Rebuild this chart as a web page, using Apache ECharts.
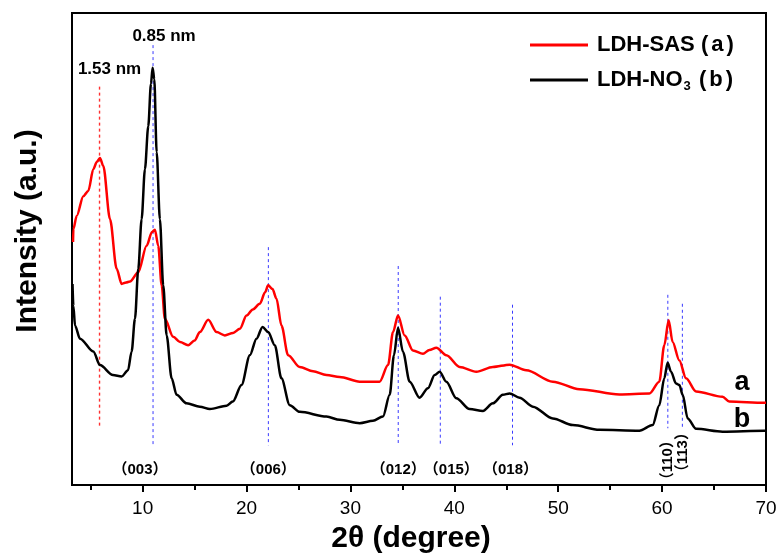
<!DOCTYPE html>
<html>
<head>
<meta charset="utf-8">
<script src="https://cdn.jsdelivr.net/npm/echarts@6/dist/echarts.min.js"></script>
<style>
  html, body { margin: 0; padding: 0; background: #fff; }
  #chart { width: 780px; height: 559px; }
</style>
</head>
<body>
<div id="chart"></div>
<script>
// LDH-SAS (a) - red curve
const thetaA = [3.3, 3.33, 3.65, 4.29, 4.77, 5.25, 5.6, 5.89, 6.21, 6.86, 7.5, 7.98, 8.4, 8.78, 9.58, 10.38, 10.9, 11.18, 11.5, 11.83,
  12.14, 12.94, 13.6, 14.38, 15.0, 15.51, 16.31, 17.12, 17.91, 18.7, 19.36, 20.0, 20.6, 21.28, 21.8, 22.08, 22.5, 22.88, 23.36, 24.0, 25.12, 26.4, 27.69,
  28.97, 30.89, 32.81, 33.62, 34.1, 34.58, 35.22, 36.02, 36.98, 37.6, 38.27, 39.23, 40.51, 42.12, 43.71, 45.32, 46.92,
  49.48, 52.04, 55.89, 58.78, 59.73, 60.21, 60.63, 61.01, 61.66, 62.3, 63.27, 65.82, 66.46, 69.84, 70];
const intensityA = [51.5, 54.2, 57.0, 61.2, 62.3, 66.9, 68.5, 69.3, 67.6, 56.3, 45.8, 42.6, 42.9, 43.1, 45.1, 50.7, 53.6, 54.1, 50.7, 42.3,
  35.2, 31.4, 30.3, 29.6, 30.6, 32.4, 35.0, 32.4, 31.7, 32.2, 33.1, 35.9, 37.2, 38.4, 40.9, 42.3, 41.5, 39.5, 33.8, 27.5, 25.0, 24.1, 23.3,
  22.9, 21.9, 21.9, 25.4, 32.4, 35.9, 31.7, 28.5, 27.8, 28.6, 29.1, 27.5, 25.0, 24.0, 25.0, 25.5, 24.3,
  21.9, 20.3, 19.2, 19.4, 21.9, 29.6, 34.9, 30.3, 26.4, 22.6, 19.8, 18.7, 17.7, 17.4, 17.4];

// LDH-NO3 (b) - black curve
const thetaB = [3.25, 3.33, 3.49, 3.97, 5.25, 5.89, 7.14, 7.98, 8.59, 8.94, 9.26, 9.58, 9.9, 10.22, 10.54, 10.8, 10.96, 11.12,
  11.35, 11.66, 11.98, 12.31, 12.79, 13.27, 14.23, 15.51, 16.47, 18.08, 18.68, 19.52, 20.32, 20.96, 21.54, 22.08,
  22.72, 23.36, 24.16, 25.12, 27.69, 28.97, 30.89, 32.17, 33.13, 33.78, 34.19, 34.58, 35.06, 35.7, 36.66, 37.46,
  38.11, 38.59, 39.23, 40.19, 41.47, 42.75, 43.71, 44.67, 45.32, 46.28, 47.56, 49.48, 51.4, 53.96, 57.81, 59.09,
  59.73, 60.21, 60.53, 60.86, 61.34, 61.66, 61.98, 62.46, 63.27, 65.82, 69.84, 70];
const intensityB = [42.6, 38.0, 33.8, 31.0, 28.3, 25.4, 23.3, 23.0, 24.3, 28.3, 35.2, 45.8, 56.3, 66.9, 76.0, 85.0, 88.4, 86.0,
  70.5, 56.3, 42.3, 31.7, 22.6, 19.1, 17.3, 16.6, 16.1, 16.8, 17.7, 21.2, 27.5, 31.0, 33.5, 32.4,
  29.6, 22.6, 16.9, 15.5, 14.5, 13.8, 13.1, 13.6, 14.5, 19.1, 27.5, 33.3, 28.2, 21.9, 18.5, 20.5,
  23.3, 24.0, 21.9, 18.4, 16.1, 15.7, 17.3, 19.1, 19.4, 18.5, 16.6, 14.1, 12.7, 11.7, 11.5, 12.7,
  16.9, 22.6, 25.9, 24.0, 21.5, 21.2, 19.1, 14.1, 11.9, 11.3, 11.5, 11.5];

// reflections
const hklPos = [11.0, 22.1, 34.6, 38.65, 45.6, 60.55, 61.95];
const hklText = ['（003）', '（006）', '（012）', '（015）', '（018）', '（110）', '（113）'];
const layerPos = [5.85, 11.0];
const layerText = ['1.53 nm', '0.85 nm'];

const xTicksMajor = [10, 20, 30, 40, 50, 60, 70];
const xTicksMinor = [5, 15, 25, 35, 45, 55, 65];

const FONT = "'Liberation Sans', Arial, 'Noto Sans CJK SC', sans-serif";

const seriesA = thetaA.map((t, i) => [t, intensityA[i]]);
const seriesB = thetaB.map((t, i) => [t, intensityB[i]]);

// dashed guide lines (top / bottom in intensity units)
const guideTop = [93.2, 50.4, 46.4, 39.9, 38.2, 40.3, 38.4];
const guideBottom = [8.4, 8.4, 8.4, 8.4, 8.4, 12.0, 12.0];
const guideSeries = hklPos.map((p, i) => ({
  type: 'line',
  data: [[p, guideTop[i]], [p, guideBottom[i]]],
  symbol: 'none',
  silent: true,
  z: 2,
  lineStyle: { color: '#3a3aff', type: [3, 3], width: 1 }
}));
guideSeries.push({
  type: 'line',
  data: [[layerPos[0], 84.4], [layerPos[0], 12.0]],
  symbol: 'none',
  silent: true,
  z: 2,
  lineStyle: { color: '#ff3030', type: [3, 3], width: 1.4 }
});

const labelBase = { color: '#000', fontFamily: FONT, fontWeight: 'bold', textBorderWidth: 0, opacity: 1 };
const hklOffsets = [-13, 0, 0, 11, -2, -3, 5];
const annotData = hklPos.map((p, i) => {
  const vertical = i >= 5;
  return {
    value: [p, vertical ? 5.9 : 3.3],
    label: Object.assign({}, labelBase, {
      formatter: hklText[i],
      fontSize: 15,
      rotate: vertical ? 90 : 0,
      offset: [hklOffsets[i], 0]
    })
  };
});
annotData.push({ value: [layerPos[0], 88.0], label: Object.assign({}, labelBase, { formatter: layerText[0], offset: [10, 0], fontSize: 17 }) });
annotData.push({ value: [layerPos[1], 95.1], label: Object.assign({}, labelBase, { formatter: layerText[1], offset: [11, 0], fontSize: 17 }) });
annotData.push({ value: [67.7, 21.7], label: Object.assign({}, labelBase, { formatter: 'a', fontSize: 27 }) });
annotData.push({ value: [67.7, 13.9], label: Object.assign({}, labelBase, { formatter: 'b', fontSize: 27 }) });

const legendText = { fontFamily: FONT, fontSize: 22, fontWeight: 'bold', color: '#000', lineHeight: 26 };

const chart = echarts.init(document.getElementById('chart'));
chart.setOption({
  animation: false,
  backgroundColor: '#fff',
  grid: {
    left: 72, right: 14, top: 13, bottom: 72,
    show: true, borderColor: '#000', borderWidth: 2
  },
  legend: {
    orient: 'vertical',
    left: 525,
    top: 27,
    itemWidth: 58,
    itemHeight: 3,
    itemGap: 9,
    icon: 'rect',
    data: ['LDH-SAS (a)', 'LDH-NO3 (b)'],
    formatter: function (name) {
      if (name === 'LDH-NO3 (b)') return '{n|LDH-NO}{s|3}{n| (}{m|b}{n|)}';
      return '{n|LDH-SAS (}{m|a}{n|)}';
    },
    textStyle: Object.assign({}, legendText, {
      padding: [0, 0, 0, 4],
      rich: {
        n: legendText,
        m: Object.assign({}, legendText, { padding: [0, 3, 0, 3] }),
        s: { fontFamily: FONT, fontSize: 13, fontWeight: 'bold', color: '#000', lineHeight: 26, verticalAlign: 'bottom', padding: [12, 2, 0, 1] }
      }
    })
  },
  xAxis: [
    {
      type: 'value',
      min: 3.2,
      max: 70,
      name: '2θ (degree)',
      nameLocation: 'middle',
      nameGap: 39,
      nameTextStyle: { fontFamily: FONT, fontSize: 30, fontWeight: 'bold', color: '#000', padding: [0, 16, 0, 0] },
      axisLine: { show: false },
      splitLine: { show: false },
      axisTick: { show: true, inside: false, length: 7, customValues: xTicksMajor, lineStyle: { color: '#000', width: 2 } },
      axisLabel: { customValues: xTicksMajor, margin: 14, fontFamily: FONT, fontSize: 19, color: '#000' }
    },
    {
      type: 'value',
      min: 3.2,
      max: 70,
      position: 'bottom',
      axisLine: { show: false },
      splitLine: { show: false },
      axisLabel: { show: false },
      axisTick: { show: true, inside: false, length: 5, customValues: xTicksMinor, lineStyle: { color: '#000', width: 2 } }
    }
  ],
  yAxis: {
    type: 'value',
    min: 0,
    max: 100,
    name: 'Intensity (a.u.)',
    nameLocation: 'middle',
    nameGap: 29,
    nameTextStyle: { fontFamily: FONT, fontSize: 30, fontWeight: 'bold', color: '#000', padding: [0, 0, 0, 36] },
    axisLine: { show: false },
    axisTick: { show: false },
    axisLabel: { show: false },
    splitLine: { show: false }
  },
  series: guideSeries.concat([
    {
      name: 'LDH-SAS (a)',
      type: 'line',
      data: seriesA,
      showSymbol: false,
      symbol: 'none',
      smooth: 0.3,
      smoothMonotone: 'x',
      lineStyle: { color: '#ff0000', width: 2.5 },
      itemStyle: { color: '#ff0000' },
      z: 3
    },
    {
      name: 'LDH-NO3 (b)',
      type: 'line',
      data: seriesB,
      showSymbol: false,
      symbol: 'none',
      smooth: 0.3,
      smoothMonotone: 'x',
      lineStyle: { color: '#000', width: 2.5 },
      itemStyle: { color: '#000' },
      z: 4
    },
    {
      name: 'annotations',
      type: 'scatter',
      symbolSize: 0,
      silent: true,
      z: 5,
      itemStyle: { opacity: 1 },
      data: annotData,
      label: Object.assign({}, labelBase, {
        show: true,
        position: 'inside',
        align: 'center',
        verticalAlign: 'middle',
        fontSize: 15
      })
    }
  ])
});
</script>
</body>
</html>
